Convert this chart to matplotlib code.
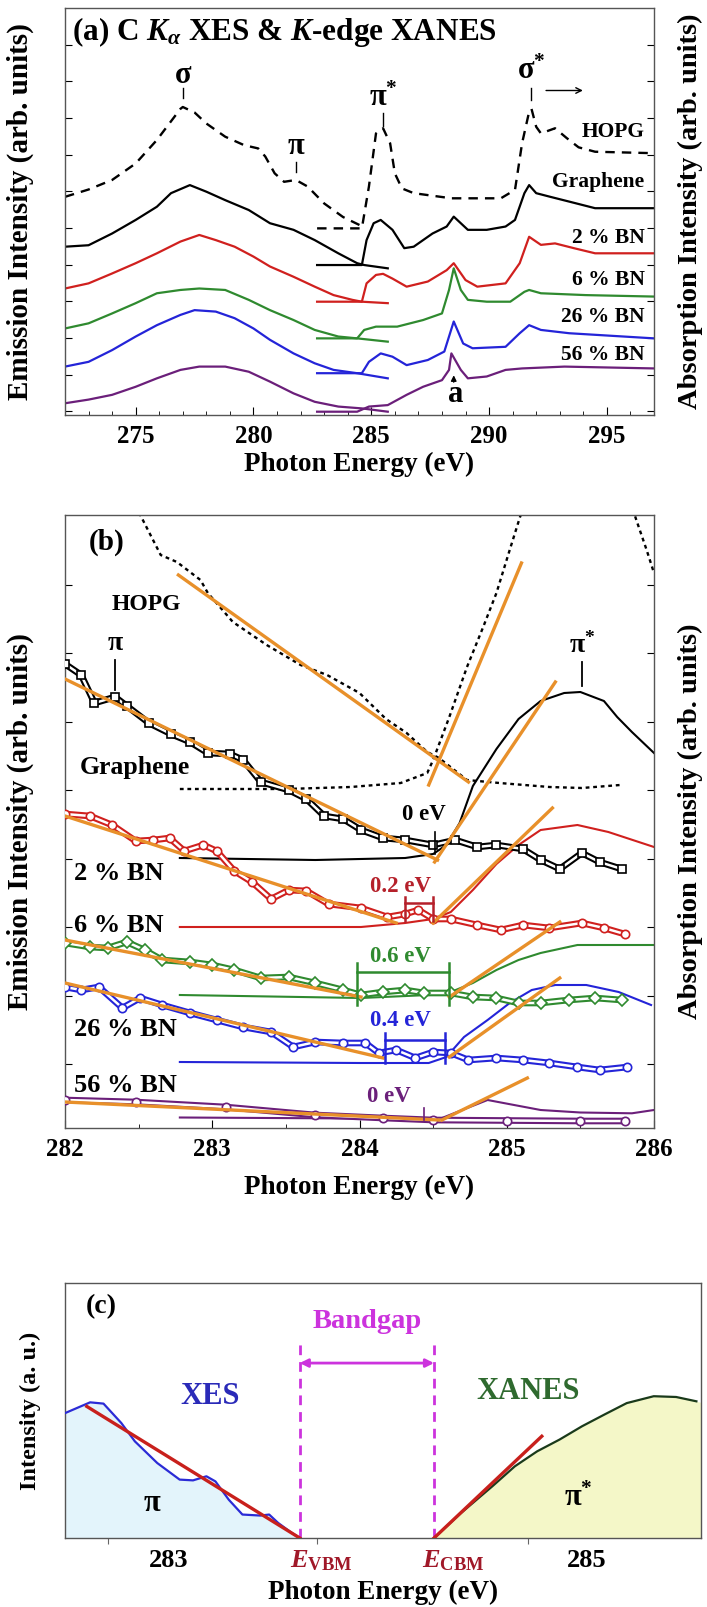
import numpy as np
import matplotlib
matplotlib.use("Agg")
import matplotlib.pyplot as plt

plt.rcParams['font.family'] = ['Liberation Serif', 'DejaVu Serif']
plt.rcParams['font.weight'] = 'bold'
plt.rcParams['mathtext.fontset'] = 'custom'
plt.rcParams['mathtext.rm'] = 'Liberation Serif:bold'
plt.rcParams['mathtext.bf'] = 'Liberation Serif:bold'
plt.rcParams['mathtext.it'] = 'Liberation Serif:italic:bold'
plt.rcParams['axes.linewidth'] = 1.0

# ---------------- panel (a): C K-alpha XES and K-edge XANES ----------------
a_hopg_xes_E = [272.0, 273.0, 274.0, 275.0, 275.9, 276.9, 277.0, 277.5, 278.0, 278.8, 279.6, 280.2,
                280.5, 280.9, 281.3, 281.8, 282.3, 283.0, 283.8, 284.6]
a_hopg_xes_y = [5.85, 6.05, 6.31, 6.76, 7.40, 8.25, 8.30, 8.15, 7.85, 7.49, 7.26, 7.17,
                6.95, 6.49, 6.26, 6.31, 6.13, 5.67, 5.30, 5.05]
a_hopg_xan_E = [282.7, 284.6, 284.9, 285.2, 285.5, 285.8, 286.0, 286.3, 286.8, 288.4, 290.5, 291.1,
                291.4, 291.7, 291.8, 292.0, 292.2, 292.8, 293.3, 293.8, 294.5, 297.0]
a_hopg_xan_y = [4.99, 4.99, 6.13, 7.58, 7.72, 7.31, 6.49, 6.08, 5.95, 5.81, 5.81, 6.04,
                7.31, 8.17, 8.25, 7.76, 7.58, 7.72, 7.45, 7.20, 7.08, 7.04]

a_gr_xes_E = [272.0, 273.0, 274.0, 275.0, 275.9, 276.5, 277.3, 278.0, 278.8, 279.8, 280.7, 281.7,
              282.6, 283.6, 284.4, 284.7, 285.7]
a_gr_xes_y = [4.49, 4.53, 4.85, 5.22, 5.58, 5.95, 6.17, 5.99, 5.76, 5.49, 5.13, 4.95,
              4.67, 4.31, 4.04, 3.99, 3.90]
a_gr_xan_E = [282.7, 284.6, 284.8, 285.1, 285.4, 285.9, 286.4, 286.8, 287.6, 288.2, 288.5, 288.8,
              289.1, 289.9, 290.7, 291.1, 291.5, 291.7, 292.0, 292.6, 293.4, 294.5, 297.0]
a_gr_xan_y = [3.99, 3.99, 4.67, 5.13, 5.22, 4.95, 4.45, 4.49, 4.85, 5.04, 5.31, 5.13,
              4.95, 4.95, 5.04, 5.22, 5.95, 6.17, 5.95, 5.85, 5.72, 5.54, 5.54]

a_bn2_xes_E = [272.0, 273.0, 274.0, 275.0, 275.9, 276.9, 277.7, 278.4, 279.2, 280.0, 280.7, 281.7,
               282.6, 283.4, 284.2, 284.6, 285.7]
a_bn2_xes_y = [3.35, 3.49, 3.76, 4.04, 4.31, 4.63, 4.81, 4.67, 4.49, 4.22, 3.95, 3.67,
               3.40, 3.17, 3.04, 2.99, 2.95]
a_bn2_xan_E = [282.7, 284.6, 284.8, 285.2, 285.5, 285.9, 286.5, 287.4, 288.2, 288.5, 289.0, 289.5,
               290.7, 291.3, 291.7, 292.2, 292.8, 293.6, 294.5, 297.0]
a_bn2_xan_y = [2.99, 2.99, 3.49, 3.72, 3.75, 3.62, 3.40, 3.54, 3.85, 4.04, 3.58, 3.40,
               3.49, 4.04, 4.76, 4.54, 4.58, 4.45, 4.31, 4.31]

a_bn6_xes_E = [272.0, 273.0, 274.0, 275.0, 275.9, 276.9, 277.7, 278.8, 279.8, 280.7, 281.7, 282.6,
               283.6, 284.4, 285.7]
a_bn6_xes_y = [2.26, 2.40, 2.67, 2.95, 3.22, 3.31, 3.35, 3.31, 3.04, 2.76, 2.49, 2.22,
               2.04, 1.99, 1.90]
a_bn6_xan_E = [282.7, 284.4, 284.7, 285.2, 286.1, 287.2, 288.0, 288.3, 288.5, 288.8, 289.1, 289.9,
               290.9, 291.5, 291.7, 292.2, 294.1, 297.0]
a_bn6_xan_y = [1.99, 1.99, 2.22, 2.31, 2.31, 2.49, 2.67, 3.31, 3.90, 3.31, 3.04, 2.99,
               2.99, 3.26, 3.31, 3.22, 3.17, 3.13]

a_bn26_xes_E = [272.0, 273.0, 274.0, 275.0, 275.9, 276.9, 277.5, 278.4, 279.2, 280.0, 280.7, 281.7,
                282.6, 283.4, 284.4, 285.7]
a_bn26_xes_y = [1.22, 1.35, 1.67, 2.04, 2.35, 2.63, 2.76, 2.72, 2.54, 2.26, 1.95, 1.58,
                1.31, 1.13, 1.04, 0.90]
a_bn26_xan_E = [282.7, 284.6, 284.9, 285.4, 285.9, 286.5, 287.4, 288.1, 288.5, 288.9, 289.3, 290.7,
                291.3, 291.7, 292.2, 293.4, 297.0]
a_bn26_xan_y = [1.04, 1.04, 1.35, 1.58, 1.49, 1.26, 1.40, 1.63, 2.45, 1.85, 1.72, 1.76,
                2.13, 2.35, 2.22, 2.13, 1.99]

a_bn56_xes_E = [272.0, 273.0, 274.0, 275.0, 275.9, 276.9, 277.7, 278.8, 279.8, 280.7, 281.7, 282.6,
                283.6, 284.6, 285.7]
a_bn56_xes_y = [0.22, 0.32, 0.45, 0.67, 0.90, 1.13, 1.22, 1.22, 1.08, 0.81, 0.49, 0.26,
                0.13, 0.08, -0.01]
a_bn56_xan_E = [282.7, 284.4, 284.9, 285.7, 286.5, 287.2, 288.0, 288.3, 288.4, 288.8, 289.1, 289.9,
                290.7, 291.4, 293.2, 297.0]
a_bn56_xan_y = [-0.01, -0.01, 0.13, 0.17, 0.45, 0.67, 0.85, 1.13, 1.58, 1.13, 0.90, 0.95,
                1.13, 1.17, 1.22, 1.17]

a_sample_names = ["HOPG", "Graphene", "2 % BN", "6 % BN", "26 % BN", "56 % BN"]
a_sample_label_y = [7.63, 6.26, 4.72, 3.58, 2.58, 1.54]
a_xticks = [275, 280, 285, 290, 295]

# ---------------- panel (b): band-edge region ----------------
b_hopg_xes_E = [282.48, 282.65, 282.76, 282.92, 282.97, 283.14, 283.37, 283.60, 283.78, 284.00, 284.18,
                284.32, 284.46, 284.54, 284.73, 284.95, 285.29, 285.51, 285.77]
b_hopg_xes_y = [61.6, 56.7, 56.0, 54.2, 52.9, 50.0, 47.7, 45.7, 44.7, 42.9, 40.3,
                38.9, 37.0, 36.4, 34.2, 33.9, 33.5, 33.4, 33.7]
b_hopg_xan_E = [282.78, 283.50, 283.94, 284.28, 284.46, 284.50, 284.61, 284.73, 284.84, 284.93, 285.02,
                285.09, 285.13, np.nan, 285.84, 285.88, 285.95, 286.0]
b_hopg_xan_y = [33.3, 33.3, 33.5, 33.9, 34.9, 36.2, 40.5, 45.5, 49.5, 52.9, 57.2,
                60.5, 62.0, np.nan, 62.0, 60.2, 57.2, 54.9]

b_gr_xes_E = [282.00, 282.11, 282.20, 282.34, 282.42, 282.57, 282.72, 282.85, 282.97, 283.12, 283.21,
              283.33, 283.52, 283.64, 283.76, 283.89, 284.01, 284.16, 284.31, 284.50, 284.65, 284.80,
              284.93, 285.11, 285.23, 285.36, 285.51, 285.63, 285.78]
b_gr_xes_y = [45.8, 44.7, 41.9, 42.5, 41.6, 39.9, 38.8, 38.0, 36.9, 36.8, 36.2,
              34.0, 33.2, 32.3, 30.6, 30.3, 29.2, 28.4, 28.2, 27.7, 28.2, 27.5,
              27.7, 27.3, 26.2, 25.3, 26.9, 26.0, 25.3]
b_gr_xan_E = [282.78, 283.70, 284.31, 284.50, 284.59, 284.68, 284.77, 284.93, 285.08, 285.23, 285.39,
              285.50, 285.66, 285.75, 285.85, 286.0]
b_gr_xan_y = [26.4, 26.2, 26.4, 26.8, 27.7, 29.9, 33.6, 37.3, 40.3, 42.1, 42.9,
              43.0, 42.1, 40.5, 39.0, 36.9]

b_bn2_xes_E = [282.00, 282.17, 282.32, 282.48, 282.60, 282.71, 282.81, 282.94, 283.03, 283.15, 283.27,
               283.40, 283.52, 283.64, 283.79, 284.01, 284.19, 284.31, 284.40, 284.50, 284.62, 284.80,
               284.96, 285.11, 285.29, 285.51, 285.66, 285.80]
b_bn2_xes_y = [30.8, 30.6, 29.7, 28.1, 28.2, 28.4, 27.1, 27.7, 27.1, 25.1, 24.0,
               22.3, 23.2, 23.1, 21.8, 21.4, 20.5, 20.8, 21.2, 20.3, 20.3, 19.7,
               19.2, 19.7, 19.4, 19.9, 19.4, 18.8]
b_bn2_xan_E = [282.78, 284.01, 284.31, 284.50, 284.62, 284.77, 284.93, 285.08, 285.23, 285.48, 285.69, 286.0]
b_bn2_xan_y = [19.5, 19.5, 19.9, 20.3, 21.0, 23.2, 25.8, 27.7, 29.2, 29.7, 29.0, 27.5]

b_bn6_xes_E = [282.00, 282.17, 282.29, 282.42, 282.54, 282.66, 282.85, 283.00, 283.15, 283.33, 283.52,
               283.70, 283.89, 284.01, 284.16, 284.31, 284.44, 284.62, 284.77, 284.93, 285.08, 285.23,
               285.42, 285.60, 285.78]
b_bn6_xes_y = [17.9, 17.5, 17.4, 18.0, 17.2, 16.2, 16.0, 15.7, 15.2, 14.4, 14.5,
               13.9, 13.2, 12.7, 13.0, 13.2, 12.9, 12.9, 12.5, 12.4, 11.9, 11.9,
               12.2, 12.4, 12.2]
b_bn6_xan_E = [282.78, 284.01, 284.47, 284.62, 284.77, 284.93, 285.08, 285.23, 285.48, 285.69, 286.0]
b_bn6_xan_y = [12.7, 12.4, 12.7, 13.0, 13.9, 15.2, 16.2, 16.9, 17.7, 17.7, 17.7]

b_bn26_xes_E = [282.00, 282.11, 282.23, 282.39, 282.51, 282.66, 282.85, 283.03, 283.21, 283.40, 283.55,
                283.70, 283.89, 284.04, 284.13, 284.25, 284.38, 284.50, 284.62, 284.74, 284.93, 285.11,
                285.29, 285.48, 285.63, 285.82]
b_bn26_xes_y = [13.5, 13.2, 13.5, 11.4, 12.4, 11.7, 10.9, 10.2, 9.5, 9.0, 7.5,
                8.0, 7.9, 7.9, 6.9, 7.2, 6.4, 7.0, 6.9, 6.2, 6.4, 6.2,
                5.9, 5.5, 5.2, 5.5]
b_bn26_xan_E = [282.78, 284.01, 284.47, 284.59, 284.71, 284.87, 285.02, 285.17, 285.33, 285.54, 285.76, 285.98]
b_bn26_xan_y = [6.0, 5.9, 5.9, 6.5, 8.5, 10.2, 11.9, 13.2, 13.7, 13.7, 13.0, 11.7]

b_bn56_xes_E = [282.00, 282.48, 283.09, 283.70, 284.16, 284.50, 285.00, 285.50, 285.80]
b_bn56_xes_y = [2.2, 2.0, 1.5, 0.7, 0.4, 0.2, 0.15, 0.1, 0.1]
b_bn56_xan_E = [282.78, 284.00, 284.56, 284.87, 285.23, 285.50, 285.85, 286.0]
b_bn56_xan_y = [0.45, 0.35, 0.4, 2.2, 1.2, 0.95, 0.87, 1.2]

# linear band-edge extrapolations: (E_start, y_start, E_end, y_end)
b_fit_hopg = [(282.77, 54.7, 284.74, 34.0), (284.47, 33.7, 285.10, 55.9)]
b_fit_gr = [(282.00, 44.3, 284.53, 26.2), (284.51, 26.0, 285.33, 44.0)]
b_fit_bn2 = [(282.00, 30.6, 284.25, 19.9), (284.50, 19.9, 285.31, 31.4)]
b_fit_bn6 = [(282.00, 18.2, 284.01, 12.5), (284.61, 12.5, 285.36, 20.0)]
b_fit_bn26 = [(282.00, 13.9, 284.16, 6.4), (284.61, 6.5, 285.36, 14.4)]
b_fit_bn56 = [(282.00, 2.0, 284.54, 0.2), (284.56, 0.2, 285.14, 4.4)]

# band-gap brackets: (E_VBM, E_CBM, y_bottom, y_bar, y_top)
b_gap_bn2 = (284.31, 284.50, 20.1, 21.95, 22.5)
b_gap_bn6 = (283.98, 284.61, 11.7, 15.0, 15.9)
b_gap_bn26 = (284.17, 284.58, 5.9, 8.2, 8.9)
b_gap_labels = ["0 eV", "0.2 eV", "0.6 eV", "0.4 eV", "0 eV"]

b_yticks = [5.8, 12.65, 19.5, 26.35, 33.2, 40.05, 46.9, 53.75]
b_xticks = [282, 283, 284, 285, 286]

# ---------------- panel (c): schematic ----------------
c_xes_E = [282.507, 282.626, 282.690, 282.775, 282.840, 282.947, 283.054, 283.118, 283.182, 283.225,
           283.289, 283.354, 283.440, 283.482, 283.525, 283.590, 283.628]
c_xes_y = [0.490, 0.532, 0.527, 0.451, 0.379, 0.294, 0.229, 0.226, 0.242, 0.222,
           0.150, 0.092, 0.088, 0.092, 0.059, 0.020, 0.0]
c_xan_E = [284.270, 284.399, 284.549, 284.656, 284.763, 284.870, 284.977, 285.084, 285.191, 285.320,
           285.427, 285.524]
c_xan_y = [0.0, 0.098, 0.203, 0.281, 0.340, 0.386, 0.438, 0.484, 0.529, 0.556, 0.553, 0.536]
c_fit_xes = (282.61, 0.516, 283.628, 0.0)
c_fit_xan = (284.27, 0.0, 284.785, 0.399)
c_vbm, c_cbm = 283.628, 284.27
c_tick_pos = [282.71, 283.71, 284.72]
c_tick_text = ["283", r"$E_{\mathrm{VBM}}$", r"$E_{\mathrm{CBM}}$", "285"]
c_tick_text_pos = [283.0, 283.73, 284.36, 285.0]

ORANGE = '#e8902a'
C_RED = '#d0201e'
C_GREEN = '#2f8a2f'
C_BLUE = '#2424d8'
C_PURPLE = '#6b1f7a'

fig = plt.figure(figsize=(7.07, 16.07), dpi=100)
W, H = 707.0, 1607.0


def add_ax(left, top, right, bottom):
    return fig.add_axes([left / W, 1 - bottom / H, (right - left) / W, (bottom - top) / H])


axA = add_ax(65, 8, 654, 415)
axB = add_ax(65, 515, 654, 1128)
axC = add_ax(65, 1283, 701, 1538)

for ax in (axA, axB, axC):
    for s in ax.spines.values():
        s.set_color('#555555')

# ---- panel (a)
dash_a = (0, (4.0, 3.0))
axA.plot(a_hopg_xes_E, a_hopg_xes_y, color='black', lw=1.7, ls=dash_a)
axA.plot(a_hopg_xan_E, a_hopg_xan_y, color='black', lw=1.7, ls=dash_a)
for (xe, xy, ae, ay, col) in [
        (a_gr_xes_E, a_gr_xes_y, a_gr_xan_E, a_gr_xan_y, 'black'),
        (a_bn2_xes_E, a_bn2_xes_y, a_bn2_xan_E, a_bn2_xan_y, C_RED),
        (a_bn6_xes_E, a_bn6_xes_y, a_bn6_xan_E, a_bn6_xan_y, C_GREEN),
        (a_bn26_xes_E, a_bn26_xes_y, a_bn26_xan_E, a_bn26_xan_y, C_BLUE),
        (a_bn56_xes_E, a_bn56_xes_y, a_bn56_xan_E, a_bn56_xan_y, C_PURPLE)]:
    axA.plot(xe, xy, color=col, lw=1.6)
    axA.plot(ae, ay, color=col, lw=1.6)

axA.set_xlim(272, 297)
axA.set_ylim(-0.1, 11.0)
axA.set_xticks(a_xticks)
axA.set_xticks(np.arange(272, 298, 1), minor=True)
axA.set_yticks(np.arange(0, 11, 1))
axA.tick_params(axis='x', which='major', direction='in', length=6, labelsize=18, pad=7, top=False)
axA.tick_params(axis='x', which='minor', direction='in', length=3, top=False)
axA.tick_params(axis='y', which='major', direction='in', length=5, left=True, right=True,
                labelleft=False)
axA.set_xlabel("Photon Energy (eV)", fontsize=19.5, fontweight='bold', labelpad=3)
axA.text(-0.075, 0.5, "Emission Intensity (arb. units)", transform=axA.transAxes, rotation=90,
         ha='center', va='center', fontsize=21)
axA.text(1.062, 0.5, "Absorption Intensity (arb. units)", transform=axA.transAxes, rotation=90,
         ha='center', va='center', fontsize=20.5)
axA.text(0.012, 0.94, r"(a) C $K_{\alpha}$ XES & $K$-edge XANES", transform=axA.transAxes,
         ha='left', va='center', fontsize=22.5)

# peak markers
for (E0, ylab, y1, y2, s) in [(277.0, 9.17, 8.81, 8.54, "σ"), (285.5, 8.54, 8.13, 7.78, "π$^{*}$"),
                              (281.8, 7.22, 6.81, 6.54, "π"), (291.8, 9.26, 8.81, 8.49, "σ$^{*}$")]:
    axA.text(E0, ylab, s, ha='center', va='center', fontsize=22)
    axA.plot([E0, E0], [y1, y2], color='black', lw=1.0)
axA.annotate("", xy=(294.1, 8.75), xytext=(292.3, 8.75),
             arrowprops=dict(arrowstyle='->', color='black', lw=1.0))
for name, yv in zip(a_sample_names, a_sample_label_y):
    kw = dict(ha='right', va='center', fontsize=15.5)
    if name == "HOPG":
        kw['bbox'] = dict(facecolor='white', edgecolor='none', pad=1.0)
    axA.text(296.6, yv, name, **kw)
axA.text(288.6, 0.45, "a", ha='center', va='center', fontsize=22)
axA.annotate("", xy=(288.5, 1.06), xytext=(288.5, 0.72),
             arrowprops=dict(arrowstyle='-|>', color='black', lw=1.0, mutation_scale=8))

# ---- panel (b)
dot_b = (0, (1.6, 1.6))
axB.plot(b_hopg_xes_E, b_hopg_xes_y, color='black', lw=1.7, ls=dot_b)
axB.plot(b_hopg_xan_E, b_hopg_xan_y, color='black', lw=1.7, ls=dot_b)


def xes_trace(ax, E, y, color, marker):
    ax.plot(E, y, color=color, lw=4.8, solid_capstyle='round', solid_joinstyle='round', zorder=3)
    ax.plot(E, y, color='white', lw=1.8, solid_capstyle='round', solid_joinstyle='round', zorder=3.1)
    ax.plot(E, y, ls='none', marker=marker, ms=6, mfc='white', mec=color, mew=1.2, zorder=3.2)


series_b = [
    (b_gr_xes_E, b_gr_xes_y, b_gr_xan_E, b_gr_xan_y, 'black', 's', b_fit_gr),
    (b_bn2_xes_E, b_bn2_xes_y, b_bn2_xan_E, b_bn2_xan_y, C_RED, 'o', b_fit_bn2),
    (b_bn6_xes_E, b_bn6_xes_y, b_bn6_xan_E, b_bn6_xan_y, C_GREEN, 'D', b_fit_bn6),
    (b_bn26_xes_E, b_bn26_xes_y, b_bn26_xan_E, b_bn26_xan_y, C_BLUE, 'o', b_fit_bn26),
    (b_bn56_xes_E, b_bn56_xes_y, b_bn56_xan_E, b_bn56_xan_y, C_PURPLE, 'o', b_fit_bn56),
]
for xe, xy, ae, ay, col, mk, fits in series_b:
    xes_trace(axB, xe, xy, col, mk)
    axB.plot(ae, ay, color=col, lw=1.5, zorder=2.5)
    for (e0, y0, e1, y1) in fits:
        axB.plot([e0, e1], [y0, y1], color=ORANGE, lw=2.4, zorder=4)
for (e0, y0, e1, y1) in b_fit_hopg:
    axB.plot([e0, e1], [y0, y1], color=ORANGE, lw=2.4, zorder=4)

# band-gap markers
axB.plot([284.51, 284.51], [29.0, 26.8], color='black', lw=1.2, zorder=5)
axB.text(284.44, 30.7, b_gap_labels[0], ha='center', va='center', fontsize=16.5, color='black')
for (gap, col, lab, ylab) in [(b_gap_bn2, '#b5202a', b_gap_labels[1], 23.6),
                              (b_gap_bn6, C_GREEN, b_gap_labels[2], 16.6),
                              (b_gap_bn26, C_BLUE, b_gap_labels[3], 10.1)]:
    e0, e1, yb, ybar, yt = gap
    axB.plot([e0, e0], [yb, yt], color=col, lw=1.8, zorder=5)
    axB.plot([e1, e1], [yb, yt], color=col, lw=1.8, zorder=5)
    axB.plot([e0, e1], [ybar, ybar], color=col, lw=1.8, zorder=5)
    axB.text(284.28, ylab, lab, ha='center', va='center', fontsize=16.5, color=col)
axB.plot([284.44, 284.44], [1.4, 0.2], color=C_PURPLE, lw=1.2, zorder=5)
axB.text(284.2, 2.6, b_gap_labels[4], ha='center', va='center', fontsize=16.5, color=C_PURPLE)

axB.text(282.28, 58.0, "(b)", ha='center', va='center', fontsize=21)
axB.text(282.55, 51.7, "HOPG", ha='center', va='center', fontsize=17)
axB.text(282.34, 47.85, "π", ha='center', va='center', fontsize=20)
axB.plot([282.34, 282.34], [46.2, 43.2], color='black', lw=1.3)
axB.text(285.51, 47.7, "π$^{*}$", ha='center', va='center', fontsize=20)
axB.plot([285.51, 285.51], [46.0, 43.6], color='black', lw=1.3)
axB.text(282.10, 35.45, "Graphene", ha='left', va='center', fontsize=18.5)
for name, yv in zip(["2 % BN", "6 % BN", "26 % BN", "56 % BN"], [24.9, 19.7, 9.2, 3.7]):
    axB.text(282.06, yv, name, ha='left', va='center', fontsize=19)

axB.set_xlim(282, 286)
axB.set_ylim(-0.6, 60.7)
axB.set_xticks(b_xticks)
axB.set_xticks(np.arange(282, 286.01, 0.5), minor=True)
axB.set_yticks(b_yticks)
axB.tick_params(axis='x', which='major', direction='in', length=6, labelsize=18, pad=7)
axB.tick_params(axis='x', which='minor', direction='in', length=3)
axB.tick_params(axis='y', which='major', direction='in', length=5, left=True, right=True,
                labelleft=False)
axB.set_xlabel("Photon Energy (eV)", fontsize=19.5, fontweight='bold', labelpad=10)
axB.text(-0.075, 0.5, "Emission Intensity (arb. units)", transform=axB.transAxes, rotation=90,
         ha='center', va='center', fontsize=21)
axB.text(1.062, 0.5, "Absorption Intensity (arb. units)", transform=axB.transAxes, rotation=90,
         ha='center', va='center', fontsize=20.5)

# ---- panel (c)
axC.fill_between(c_xes_E, 0, c_xes_y, color='#e3f4fb', lw=0, zorder=1)
axC.fill_between(c_xan_E + [285.546], 0, c_xan_y + [0.532], color='#f4f7c8', lw=0, zorder=1)
axC.plot(c_xes_E, c_xes_y, color='#2b2bd6', lw=1.6, zorder=3)
axC.plot(c_xan_E, c_xan_y, color='#1a3a1a', lw=1.6, zorder=3)
axC.plot([c_fit_xes[0], c_fit_xes[2]], [c_fit_xes[1], c_fit_xes[3]], color='#c8201c', lw=2.4, zorder=4)
axC.plot([c_fit_xan[0], c_fit_xan[2]], [c_fit_xan[1], c_fit_xan[3]], color='#c8201c', lw=2.4, zorder=4)
MAG = '#cc33dd'
for ex in (c_vbm, c_cbm):
    axC.plot([ex, ex], [0, 0.778], color=MAG, lw=2.0, ls=(0, (3.5, 2.5)), zorder=2)
axC.annotate("", xy=(c_cbm, 0.686), xytext=(c_vbm, 0.686),
             arrowprops=dict(arrowstyle='<|-|>', color=MAG, lw=2.0, mutation_scale=12,
                             shrinkA=0, shrinkB=0))
axC.text(283.95, 0.85, "Bandgap", ha='center', va='center', fontsize=20.5, color=MAG)
axC.text(283.20, 0.556, "XES", ha='center', va='center', fontsize=22, color='#2a2ab8')
axC.text(284.72, 0.575, "XANES", ha='center', va='center', fontsize=22, color='#2f6a2f')
axC.text(282.92, 0.137, "π", ha='center', va='center', fontsize=22)
axC.text(284.96, 0.157, "π$^{*}$", ha='center', va='center', fontsize=22)
axC.text(282.68, 0.908, "(c)", ha='center', va='center', fontsize=20)

axC.set_xlim(282.506, 285.546)
axC.set_ylim(0, 1)
axC.set_xticks(c_tick_pos)
axC.set_xticklabels([])
axC.set_yticks([])
axC.tick_params(axis='x', direction='out', length=4, color='#666666')
for lab, ex in zip(c_tick_text, c_tick_text_pos):
    col = '#a01828' if lab.startswith('$') else 'black'
    axC.text(ex, -0.088, lab, ha='center', va='center', fontsize=19, color=col,
             transform=axC.get_xaxis_transform())
axC.text(0.5, -0.212, "Photon Energy (eV)", ha='center', va='center', fontsize=19.5,
         transform=axC.transAxes)
axC.text(-0.055, 0.5, "Intensity (a. u.)", transform=axC.transAxes, rotation=90,
         ha='center', va='center', fontsize=17.5)

fig.savefig("out.png", dpi=100)
